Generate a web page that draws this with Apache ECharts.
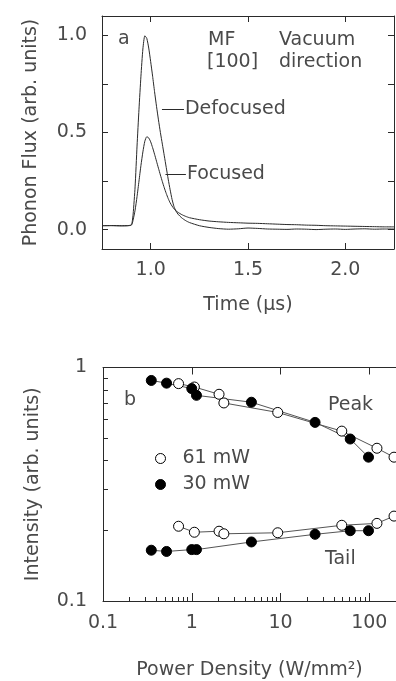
<!DOCTYPE html>
<html>
<head>
<meta charset="utf-8">
<script src="https://cdn.jsdelivr.net/npm/echarts@6/dist/echarts.min.js"></script>
<style>
  html, body { margin: 0; padding: 0; background: #fff; }
  #chart { width: 396px; height: 681px; }
</style>
</head>
<body>
<div id="chart"></div>
<script>
// ---- Panel a: phonon flux versus time (MF, [100] vacuum direction) ----
const timeUs = [0.75, 0.80, 0.85, 0.88, 0.90, 0.905, 0.91, 0.92, 0.93, 0.94, 0.95, 0.96, 0.97, 0.98, 0.99,
  1.00, 1.01, 1.02, 1.03, 1.04, 1.05, 1.06, 1.07, 1.08, 1.09, 1.10, 1.11, 1.12, 1.13, 1.14, 1.16, 1.18,
  1.20, 1.25, 1.30, 1.35, 1.40, 1.45, 1.50, 1.55, 1.60, 1.65, 1.70, 1.75, 1.80, 1.85, 1.90, 1.95, 2.00,
  2.05, 2.10, 2.15, 2.20, 2.25];
const defocusedFlux = [0.020, 0.020, 0.019, 0.020, 0.024, 0.040, 0.080, 0.220, 0.430, 0.620, 0.790, 0.930, 0.998, 0.985, 0.935,
  0.865, 0.790, 0.710, 0.635, 0.565, 0.500, 0.440, 0.380, 0.320, 0.260, 0.205, 0.155, 0.118, 0.095, 0.080, 0.060, 0.046,
  0.036, 0.020, 0.011, 0.005, 0.002, 0.004, 0.008, 0.006, 0.003, 0.002, 0.001, 0.003, 0.002, 0.000, 0.002, 0.003, 0.001,
  0.003, 0.004, 0.002, 0.003, 0.003];
const focusedFlux = [0.020, 0.021, 0.020, 0.020, 0.022, 0.030, 0.050, 0.100, 0.170, 0.250, 0.330, 0.400, 0.455, 0.478, 0.472,
  0.452, 0.422, 0.388, 0.352, 0.316, 0.281, 0.247, 0.215, 0.186, 0.160, 0.138, 0.121, 0.107, 0.097, 0.089, 0.077, 0.068,
  0.061, 0.051, 0.044, 0.040, 0.037, 0.035, 0.033, 0.032, 0.030, 0.028, 0.026, 0.025, 0.023, 0.022, 0.020, 0.019, 0.018,
  0.017, 0.016, 0.015, 0.014, 0.014];
const timeTicks = [1.0, 1.5, 2.0];
const fluxLabels = [0, 0.5, 1.0];
const fluxTicks = [0, 0.25, 0.5, 0.75, 1.0];

// ---- Panel b: peak and tail intensity versus power density ----
const power61 = [0.71, 1.07, 2.03, 2.3, 9.3, 49, 122, 190];
const peak61  = [0.853, 0.825, 0.768, 0.705, 0.642, 0.534, 0.451, 0.413];
const tail61  = [0.209, 0.197, 0.199, 0.194, 0.196, 0.211, 0.215, 0.231];
const power30 = [0.35, 0.52, 1.0, 1.13, 4.7, 24.5, 61, 98];
const peak30  = [0.880, 0.857, 0.812, 0.760, 0.710, 0.582, 0.494, 0.413];
const tail30  = [0.165, 0.163, 0.166, 0.166, 0.179, 0.193, 0.200, 0.200];
const powerTicks = [0.1, 1, 10, 100];
const powerMinorTicks = [0.2, 0.3, 0.4, 0.5, 0.6, 0.7, 0.8, 0.9, 2, 3, 4, 5, 6, 7, 8, 9,
  20, 30, 40, 50, 60, 70, 80, 90];
const intensityTicks = [0.1, 1];
const intensityMinorTicks = [0.2, 0.3, 0.4, 0.5, 0.6, 0.7, 0.8, 0.9];

const FONT = 'DejaVu Sans';
const FS = 19;
const INK = '#4a4a4a';
const LINE = '#2a2a2a';
const CSSFONT = FS + 'px "DejaVu Sans"';

function pairs(xs, ys) { return xs.map((x, i) => [x, ys[i]]); }
function txt(size) { return { fontFamily: FONT, fontSize: size, color: INK }; }

const axisLine = { show: true, onZero: false, lineStyle: { color: LINE, width: 1 } };
const noLine = { show: false, onZero: false };

const chart = echarts.init(document.getElementById('chart'), null, { renderer: 'canvas' });

const openStyle = { color: '#fff', borderColor: '#000', borderWidth: 1 };
const fillStyle = { color: '#000', borderColor: '#000', borderWidth: 1 };

function markerSeries(name, xs, ys, style) {
  return {
    type: 'line', name: name, xAxisIndex: 2, yAxisIndex: 2,
    data: pairs(xs, ys),
    symbol: 'circle', symbolSize: 10, showSymbol: true,
    itemStyle: style,
    lineStyle: { color: '#555', width: 1 },
    emphasis: { disabled: true }, silent: true, clip: false
  };
}

function traceSeries(name, ys, labelText, from, to) {
  return {
    type: 'line', name: name, xAxisIndex: 0, yAxisIndex: 0,
    data: pairs(timeUs, ys),
    showSymbol: false, smooth: 0.2,
    lineStyle: { color: LINE, width: 1 },
    emphasis: { disabled: true }, silent: true,
    markLine: {
      silent: true, animation: false,
      symbol: ['none', 'triangle'], symbolSize: [[1, 1], [6, 11]],
      lineStyle: { color: LINE, width: 1, type: 'solid' },
      itemStyle: { color: '#111' },
      label: Object.assign({ show: true, position: 'start', formatter: labelText, distance: 1 }, txt(FS)),
      emphasis: { disabled: true },
      data: [[{ coord: from }, { coord: to }]]
    }
  };
}

function note(text, x, y) {
  return { type: 'text', x: x, y: y, silent: true,
    style: { text: text, font: CSSFONT, fill: INK, verticalAlign: 'middle' } };
}

const option = {
  animation: false,
  backgroundColor: '#fff',
  grid: [
    { left: 102, right: 2, top: 16, height: 233 },
    { left: 103, right: -2, top: 367.5, height: 234.5 }
  ],
  xAxis: [
    { // panel a, bottom
      gridIndex: 0, type: 'value', position: 'bottom', min: 0.75, max: 2.25,
      axisLine: axisLine,
      axisTick: { inside: true, length: 6, customValues: timeTicks, lineStyle: { color: LINE } },
      axisLabel: Object.assign({ customValues: timeTicks, margin: 12, formatter: v => v.toFixed(1) }, txt(FS)),
      splitLine: { show: false },
      name: 'Time (μs)', nameLocation: 'middle', nameGap: 47, nameTextStyle: txt(FS)
    },
    { // panel a, top frame
      gridIndex: 0, type: 'value', position: 'top', min: 0.75, max: 2.25,
      axisLine: axisLine,
      axisTick: { inside: true, length: 6, customValues: timeTicks, lineStyle: { color: LINE } },
      axisLabel: { show: false }, splitLine: { show: false }
    },
    { // panel b, bottom with decade labels
      gridIndex: 1, type: 'log', logBase: 10, position: 'bottom', min: 0.1, max: 200,
      axisLine: axisLine,
      axisTick: { inside: true, length: 8, customValues: powerTicks, lineStyle: { color: LINE } },
      axisLabel: Object.assign({ customValues: powerTicks, margin: 13, formatter: v => String(v) }, txt(FS)),
      splitLine: { show: false },
      name: 'Power Density (W/mm²)', nameLocation: 'middle', nameGap: 60, nameTextStyle: txt(FS)
    },
    { // panel b, minor ticks
      gridIndex: 1, type: 'log', logBase: 10, position: 'bottom', min: 0.1, max: 200,
      axisLine: noLine,
      axisTick: { inside: true, length: 4, customValues: powerMinorTicks, lineStyle: { color: LINE } },
      axisLabel: { show: false }, splitLine: { show: false }
    },
    { // panel b, top frame
      gridIndex: 1, type: 'log', logBase: 10, position: 'top', min: 0.1, max: 200,
      axisLine: axisLine,
      axisTick: { inside: true, length: 7, customValues: powerTicks, lineStyle: { color: LINE } },
      axisLabel: { show: false }, splitLine: { show: false }
    }
  ],
  yAxis: [
    { // panel a, left
      gridIndex: 0, type: 'value', position: 'left', min: -0.1, max: 1.1,
      axisLine: axisLine,
      axisTick: { inside: true, length: 6, customValues: fluxTicks, lineStyle: { color: LINE } },
      axisLabel: Object.assign({ customValues: fluxLabels, margin: 15, formatter: v => v.toFixed(1) }, txt(FS)),
      splitLine: { show: false },
      name: 'Phonon Flux (arb. units)', nameLocation: 'middle', nameGap: 61, nameRotate: 90, nameTextStyle: txt(FS)
    },
    { // panel a, right frame
      gridIndex: 0, type: 'value', position: 'right', min: -0.1, max: 1.1,
      axisLine: axisLine,
      axisTick: { inside: true, length: 6, customValues: fluxTicks, lineStyle: { color: LINE } },
      axisLabel: { show: false }, splitLine: { show: false }
    },
    { // panel b, left
      gridIndex: 1, type: 'log', logBase: 10, position: 'left', min: 0.1, max: 1,
      axisLine: axisLine,
      axisTick: { inside: true, length: 5, customValues: intensityMinorTicks, lineStyle: { color: LINE } },
      axisLabel: Object.assign({ customValues: intensityTicks, margin: 16, formatter: v => String(v) }, txt(FS)),
      splitLine: { show: false },
      name: 'Intensity (arb. units)', nameLocation: 'middle', nameGap: 60, nameRotate: 90, nameTextStyle: txt(FS)
    }
  ],
  legend: {
    orient: 'vertical', left: 150, top: 444,
    itemWidth: 10, itemHeight: 10, itemGap: 7,
    selectedMode: false,
    textStyle: Object.assign({ padding: [0, 0, 0, 12] }, txt(FS)),
    data: [
      { name: '61 mW', icon: 'circle', itemStyle: openStyle },
      { name: '30 mW', icon: 'circle', itemStyle: fillStyle }
    ]
  },
  graphic: [
    note('a', 118, 39),
    note('MF', 208, 40),
    note('Vacuum', 279, 40),
    note('[100]', 207, 62),
    note('direction', 279, 62),
    note('b', 124, 400),
    note('Peak', 328, 405),
    note('Tail', 325, 559)
  ],
  series: [
    traceSeries('Defocused', defocusedFlux, 'Defocused', [1.171, 0.620], [1.058, 0.620]),
    traceSeries('Focused', focusedFlux, 'Focused', [1.181, 0.285], [1.076, 0.285]),
    markerSeries('61 mW', power61, peak61, openStyle),
    markerSeries('61 mW', power61, tail61, openStyle),
    markerSeries('30 mW', power30, peak30, fillStyle),
    markerSeries('30 mW', power30, tail30, fillStyle)
  ]
};

chart.setOption(option);
</script>
</body>
</html>
